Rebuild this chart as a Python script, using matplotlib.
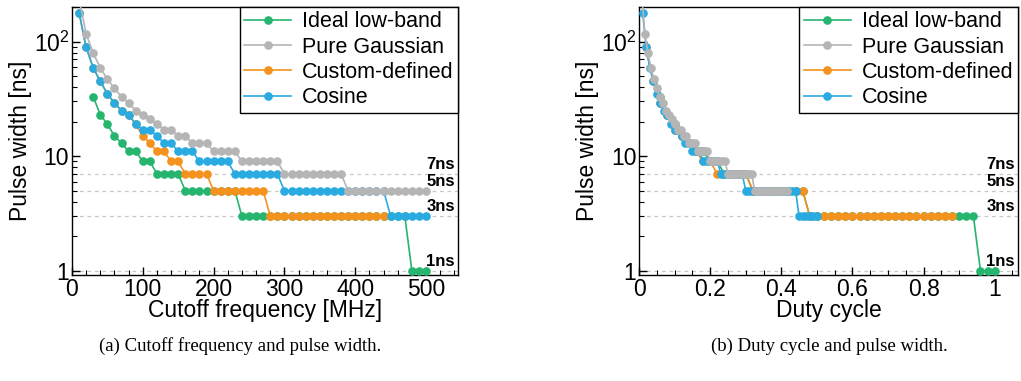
import numpy as np
import matplotlib
matplotlib.use("Agg")
import matplotlib.pyplot as plt
from matplotlib.ticker import FixedLocator, FixedFormatter, MultipleLocator, LogLocator, NullFormatter

plt.rcParams['font.family'] = ['Liberation Sans', 'DejaVu Sans']
plt.rcParams['mathtext.fontset'] = 'custom'
plt.rcParams['mathtext.rm'] = 'Liberation Sans'
plt.rcParams['mathtext.it'] = 'Liberation Sans:italic'

# ---- data -------------------------------------------------------------
# cutoff-frequency sweep [MHz]
freq = list(range(10, 510, 10))

# pulse widths [ns] per filter type
width_ideal = [33, 23, 19, 15, 13, 11, 11, 9, 9,
               7, 7, 7, 7,
               5, 5, 5, 5, 5, 5, 5, 5,
               3, 3, 3, 3, 3, 3, 3, 3, 3, 3, 3, 3,
               3, 3, 3, 3, 3, 3, 3, 3, 3, 3, 3, 3,
               1, 1, 1]
freq_ideal = freq[2:]

width_gauss = [235, 117, 79, 59, 47, 39, 33, 29, 25, 23, 21, 19, 17, 17, 15, 15,
               13, 13, 13,
               11, 11, 11, 11,
               9, 9, 9, 9, 9, 9,
               7, 7, 7, 7, 7, 7, 7, 7, 7,
               5, 5, 5, 5, 5, 5, 5, 5, 5, 5, 5, 5]

width_custom = [179, 89, 59, 45, 35, 29, 25, 23, 19, 15, 13, 11, 11, 9, 9,
                7, 7, 7, 7,
                5, 5, 5, 5, 5, 5, 5, 5,
                3, 3, 3, 3, 3, 3, 3, 3, 3, 3, 3, 3, 3, 3, 3, 3, 3]
freq_custom = freq[:44]

width_cosine = [179, 89, 59, 45, 35, 29, 25, 23, 19, 17, 17, 15, 13, 13,
                11, 11, 11,
                9, 9, 9, 9, 9,
                7, 7, 7, 7, 7, 7, 7,
                5, 5, 5, 5, 5, 5, 5, 5, 5, 5, 5, 5, 5, 5, 5,
                3, 3, 3, 3, 3, 3]

# duty-cycle view: each filter maps the sweep onto its own duty-cycle scale
duty_ideal = [f / 500 for f in freq_ideal]
duty_gauss = [f / 1200 for f in freq]
duty_cosine = [f / 1000 for f in freq]
duty_custom = [0.02 * k for k in range(1, 45)]
width_custom_duty = [89, 45, 29, 23, 17, 15, 13, 11, 9, 9,
                     7, 7, 7, 7, 7,
                     5, 5, 5, 5, 5, 5, 5, 5,
                     3, 3, 3, 3, 3, 3, 3, 3, 3, 3, 3,
                     3, 3, 3, 3, 3, 3, 3, 3, 3, 3]

ref_levels = [7, 5, 3, 1]
ref_labels = ['7ns', '5ns', '3ns', '1ns']

names = ['Ideal low-band', 'Pure Gaussian', 'Custom-defined', 'Cosine']
colors = {'Ideal low-band': '#25b56f', 'Pure Gaussian': '#b5b5b5',
          'Custom-defined': '#f5921e', 'Cosine': '#29abe2'}
zorders = {'Ideal low-band': 3, 'Custom-defined': 4, 'Cosine': 5, 'Pure Gaussian': 6}

# ---- figure -------------------------------------------------------------
fig = plt.figure(figsize=(10.21, 3.81), dpi=100)
ax_a = fig.add_axes([0.0705, 0.2782, 0.378, 0.7034])
ax_b = fig.add_axes([0.6259, 0.2782, 0.371, 0.7034])

series_a = {'Ideal low-band': (freq_ideal, width_ideal),
            'Pure Gaussian': (freq, width_gauss),
            'Custom-defined': (freq_custom, width_custom),
            'Cosine': (freq, width_cosine)}
series_b = {'Ideal low-band': (duty_ideal, width_ideal),
            'Pure Gaussian': (duty_gauss, width_gauss),
            'Custom-defined': (duty_custom, width_custom_duty),
            'Cosine': (duty_cosine, width_cosine)}


def draw(ax, series, xmax, xlabel, major, minor):
    for lvl in ref_levels:
        ax.axhline(lvl, color='#c8c8c8', lw=0.9, ls=(0, (3, 3)), zorder=1)
    handles = []
    for name in names:
        x, y = series[name]
        h, = ax.plot(x, y, '-o', color=colors[name], lw=1.2, ms=5.2,
                     mec=colors[name], zorder=zorders[name], label=name,
                     clip_on=True)
        handles.append(h)
    ax.set_yscale('log')
    ax.set_ylim(0.92, 200)
    ax.set_xlim(0, xmax)
    ax.yaxis.set_major_locator(FixedLocator([1, 10, 100]))
    ax.yaxis.set_major_formatter(FixedFormatter(['1', '10', r'$10^2$']))
    ax.yaxis.set_minor_locator(LogLocator(base=10, subs=np.arange(2, 10)))
    ax.yaxis.set_minor_formatter(NullFormatter())
    ax.xaxis.set_major_locator(MultipleLocator(major))
    ax.xaxis.set_minor_locator(MultipleLocator(minor))
    ax.tick_params(which='both', direction='in', top=False, right=False,
                   labelsize=16.5, pad=2)
    ax.tick_params(which='major', length=6, width=1)
    ax.tick_params(which='minor', length=3.5, width=0.8)
    ax.set_xlabel(xlabel, fontsize=16.5, labelpad=-1)
    ax.set_ylabel('Pulse width [ns]', fontsize=16.5, labelpad=1)
    for sp in ax.spines.values():
        sp.set_linewidth(1.0)
    xr = ax.get_xlim()[1] - 0.008 * xmax
    for lvl, lab in zip(ref_levels, ref_labels):
        ax.text(xr, lvl * 1.04, lab, ha='right', va='bottom', fontsize=12,
                fontweight='bold', zorder=7)
    leg = ax.legend(handles=handles, loc='upper right', fontsize=15.5,
                    frameon=True, fancybox=False, edgecolor='black',
                    borderaxespad=0, handlelength=2.2, handletextpad=0.5,
                    labelspacing=0.2, borderpad=0.2, framealpha=1)
    leg.get_frame().set_linewidth(1.0)
    leg.set_zorder(10)


draw(ax_a, series_a, 545, 'Cutoff frequency [MHz]', 100, 20)
draw(ax_b, series_b, 1.065, 'Duty cycle', 0.2, 0.05)
ax_b.set_xticks([0, 0.2, 0.4, 0.6, 0.8, 1.0])
ax_b.set_xticklabels(['0', '0.2', '0.4', '0.6', '0.8', '1'])

fig.text(0.235, 0.092, '(a) Cutoff frequency and pulse width.', ha='center',
         va='center', fontsize=13.5, family=['Liberation Serif', 'DejaVu Serif'])
fig.text(0.812, 0.092, '(b) Duty cycle and pulse width.', ha='center',
         va='center', fontsize=13.5, family=['Liberation Serif', 'DejaVu Serif'])

fig.savefig('out.png', dpi=100)
